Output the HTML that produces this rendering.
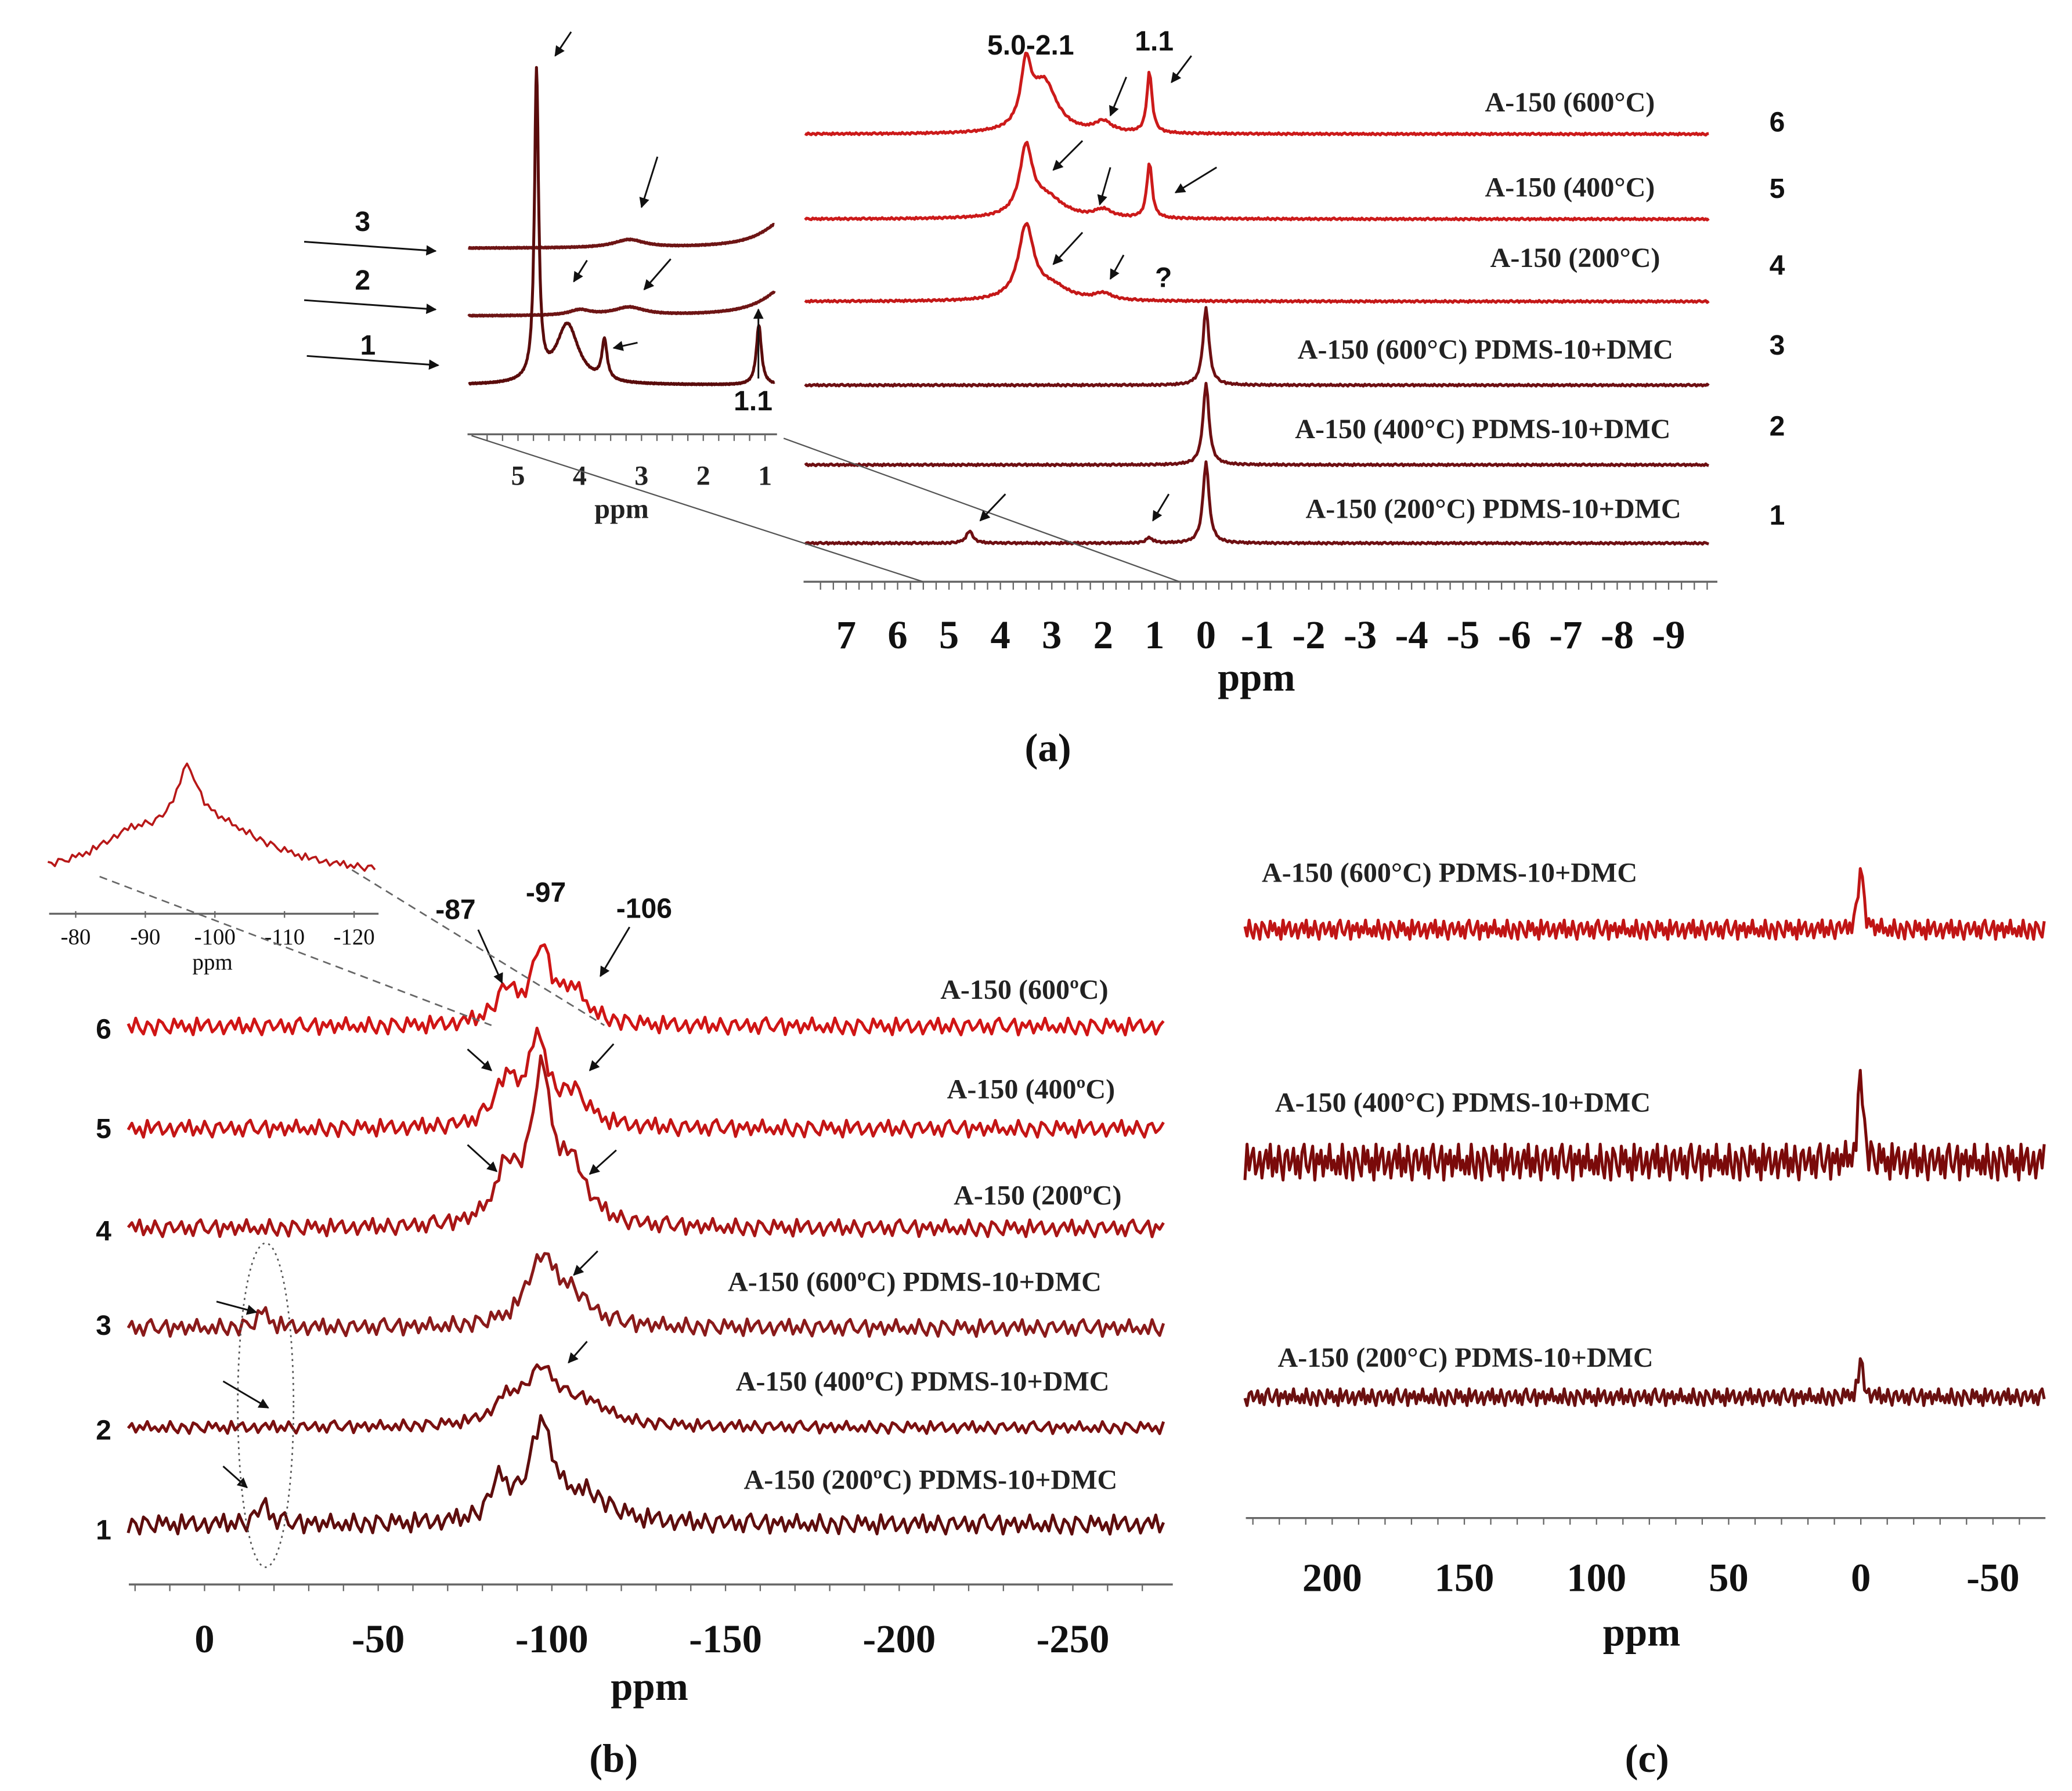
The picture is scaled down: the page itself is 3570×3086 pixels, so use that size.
<!DOCTYPE html>
<html><head><meta charset="utf-8"><style>
html,body{margin:0;padding:0;background:#fff}
svg{display:block}
.lbl{font-family:"Liberation Serif",serif;font-weight:bold;font-size:21px;fill:#222}
.num{font-family:"Liberation Sans",sans-serif;font-weight:bold;font-size:21px;fill:#111}
.tick{font-family:"Liberation Serif",serif;font-weight:bold;font-size:30px;fill:#111}
.small{font-family:"Liberation Serif",serif;font-size:17px;fill:#111}
</style></head><body>
<svg id="fig" width="3570" height="3086" viewBox="0 0 1560 1348.5" xmlns="http://www.w3.org/2000/svg">
<defs><marker id="ah" viewBox="0 0 10 10" refX="9" refY="5" markerWidth="6" markerHeight="6" orient="auto"><path d="M0,0L10,5L0,10z" fill="#111"/></marker></defs>
<g id="root"></g>
</svg>
<script>
// ---- data ----
const noise=[0.3,-0.6,0.9,-0.2,-0.8,0.5,0.1,-0.9,0.7,0.4,-0.3,-0.7,0.8,-0.1,0.6,-0.5,0.2,-0.9,0.9,-0.4,0.3,0.7,-0.6,-0.2,0.5,-0.8,0.1,0.6,-0.3,0.9,-0.7,0.2,-0.5,0.8,-0.1,-0.9,0.4,0.6,-0.4,0.0,0.7,-0.6,0.3,-0.8,0.5,0.9,-0.2,-0.5,0.2,0.8,-0.9,0.4,-0.1,0.6,-0.7,0.3,-0.3,0.9,-0.4,0.1,-0.6];
const aNames=["A-150 (600°C)","A-150 (400°C)","A-150 (200°C)","A-150 (600°C) PDMS-10+DMC","A-150 (400°C) PDMS-10+DMC","A-150 (200°C) PDMS-10+DMC"];
const aNums=["6","5","4","3","2","1"];
const aBase=[101,165,227,290,350,409];
const aPeaks=[[[3.5,45,0.12],[3.15,38,0.3],[2.0,8,0.2],[1.1,46,0.06]],
[[3.5,50,0.15],[3.1,15,0.4],[2.0,6,0.2],[1.1,42,0.06]],
[[3.5,55,0.18],[3.0,10,0.4],[2.0,5,0.2]],
[[0,58,0.07]],[[0,61,0.07]],[[0,61,0.07],[4.6,9,0.08],[1.1,4,0.08]]];
const aTicks=[7,6,5,4,3,2,1,0,-1,-2,-3,-4,-5,-6,-7,-8,-9];
const iBase=[187,238,290];
const iPeaks=[[[3.2,6,0.3],[0.6,24,0.45]],[[3.2,6,0.3],[4.0,4,0.2],[0.6,24,0.45]],[[4.7,232,0.04],[4.2,45,0.22],[3.6,30,0.05],[1.1,45,0.05]]];
const iTicks=[5,4,3,2,1];
const bNames=["A-150 (600ºC)","A-150 (400ºC)","A-150 (200ºC)","A-150 (600ºC) PDMS-10+DMC","A-150 (400ºC) PDMS-10+DMC","A-150 (200ºC) PDMS-10+DMC"];
const bBase=[773,850,925,1000,1075,1148];
const bPeaks=[[[-97,55,3],[-87,25,4],[-106,25,5]],[[-96,65,3],[-87,35,4],[-106,25,5]],[[-97,110,3.5],[-87,40,4],[-106,40,5]],
[[-97,50,5],[-106,20,6],[-17,12,2]],[[-97,40,6],[-87,15,4],[-110,15,8]],[[-97,72,4],[-85,30,3],[-110,20,8],[-17,15,2]]];
const bNoise=[7,7,7,7,5,8];
const bTicks=[0,-50,-100,-150,-200,-250];
const insBPeaks=[[-96,45,2],[-100,35,10],[-88,20,6]];
const insBTicks=[-80,-90,-100,-110,-120];
const cNames=["A-150 (600°C) PDMS-10+DMC","A-150 (400°C) PDMS-10+DMC","A-150 (200°C) PDMS-10+DMC"];
const cBase=[700,875,1052];
const cPeaks=[[[0,52,1]],[[0,75,1]],[[0,28,1]]];
const cNoise=[8,15,7];
const cTicks=[200,150,100,50,0,-50];

const NS="http://www.w3.org/2000/svg";
const root=document.getElementById('root');
function el(tag,attrs,parent){const e=document.createElementNS(NS,tag);for(const k in attrs)e.setAttribute(k,attrs[k]);(parent||root).appendChild(e);return e;}
function txt(s,x,y,cls,anchor,name){const t=el('text',{x:x,y:y,class:cls,'text-anchor':anchor||'start'});t.textContent=s;


return t;}
function trace(xs,p0,p1,step,base,peaks,namp,off,color,name,sw){let d='';let i=0;
for(let p=p0;p>=p1;p-=step){let y=base;for(const pk of peaks){const u=(p-pk[0])/pk[2];y-=pk[1]/(1+u*u);}
y-=namp*noise[(i+off)%noise.length];d+=(i?'L':'M')+xs(p).toFixed(1)+','+y.toFixed(1);i++;}
const path=el('path',{d:d,fill:'none',stroke:color,'stroke-width':sw||2.2,'stroke-linejoin':'round'});

return path;}
function arrow(x1,y1,x2,y2){const a=el('line',{x1:x1,y1:y1,x2:x2,y2:y2,stroke:'#111','stroke-width':1.3,'marker-end':'url(#ah)'});

}
function axis(x0,x1,y,name){const l=el('line',{x1:x0,y1:y,x2:x1,y2:y,stroke:'#666','stroke-width':1.5});

}
function ticks(xs,p0,p1,step,y,len){for(let p=p0;p>=p1-1e-9;p-=step){el('line',{x1:xs(p),y1:y,x2:xs(p),y2:y+len,stroke:'#666','stroke-width':1});}}

const xa=p=>908-38.7*p;
const aCol=['#cc1a1a','#cc1a1a','#c41818','#6e0f12','#6e0f12','#6e0f12'];
aBase.forEach((b,k)=>{trace(xa,7.8,-9.8,0.03,b,aPeaks[k],0.8,k*7,aCol[k],'trace-a-'+aNums[k]);});
axis(605,1293,438,'x-axis-a');ticks(xa,7.5,-9.75,0.25,438,6);
aTicks.forEach(t=>txt(String(t),xa(t),488,'tick','middle','tick-a'));
txt('ppm',946,520,'tick','middle','x-axis-title-a');
const aLy=[84,148,201,270,330,390],aLx=[1118,1118,1122,977,975,983],aNy=[99,149,207,267,328,395];
aNames.forEach((n,k)=>{txt(n,aLx[k],aLy[k],'lbl','start','label-a-'+aNums[k]);txt(aNums[k],1338,aNy[k],'num','middle','number-a-'+aNums[k]);});
txt('5.0-2.1',776,41,'num','middle','peak-label-5-2');txt('1.1',869,38,'num','middle','peak-label-1-1');
txt('?',876,216,'num','middle','question-mark');
const xi=p=>390+46.5*(5-p);
const iCol=['#6e1515','#6e1515','#5a0c0c'];
iBase.forEach((b,k)=>{trace(xi,5.8,0.85,0.01,b,iPeaks[k],0.5,k*11,iCol[k],'inset-a-trace-'+(3-k));});
axis(352,585,327,'inset-a-axis');ticks(xi,5.5,1,0.25,327,5);
iTicks.forEach(t=>txt(String(t),xi(t),365,'lbl','middle','inset-a-tick'));
txt('ppm',468,390,'lbl','middle','inset-a-axis-title');
txt('3',273,174,'num','middle','inset-label-3');txt('2',273,218,'num','middle','inset-label-2');txt('1',277,267,'num','middle','inset-label-1');
txt('1.1',567,309,'num','middle','inset-label-1-1');
arrow(229,182,328,189);arrow(229,226,328,233);arrow(231,268,330,275);
el('line',{x1:355,y1:328,x2:695,y2:438,stroke:'#555','stroke-width':1});el('line',{x1:590,y1:330,x2:888,y2:438,stroke:'#555','stroke-width':1});
arrow(430,24,418,42);arrow(495,118,483,156);arrow(442,196,432,212);arrow(505,195,485,218);arrow(480,258,462,262);arrow(571,285,571,233);
arrow(848,58,836,87);arrow(897,42,882,62);arrow(815,106,793,128);arrow(836,126,828,154);arrow(916,126,885,145);arrow(815,175,793,199);arrow(846,192,836,210);arrow(757,372,738,392);arrow(880,372,868,392);

const xb=p=>154-2.615*p;
const bCol=['#d01515','#c41515','#a81515','#8a1a1a','#7a1010','#5e0d0d'];
bBase.forEach((b,k)=>{trace(xb,22,-277,1.1,b,bPeaks[k],bNoise[k],k*13,bCol[k],'trace-b-'+aNums[k]);});
axis(97,883,1193,'x-axis-b');ticks(xb,20,-275,10,1193,5);
bTicks.forEach(t=>txt(String(t),xb(t),1244,'tick','middle','tick-b'));
txt('ppm',489,1280,'tick','middle','x-axis-title-b');
const bLx=[708,713,718,548,554,560],bLy=[752,827,907,972,1047,1121],bNy=[782,857,934,1005,1084,1159];
bNames.forEach((n,k)=>{txt(n,bLx[k],bLy[k],'lbl','start','label-b-'+aNums[k]);txt(aNums[k],78,bNy[k],'num','middle','number-b-'+aNums[k]);});
txt('-87',343,692,'num','middle','peak-label-87');txt('-97',411,679,'num','middle','peak-label-97');txt('-106',485,691,'num','middle','peak-label-106');
arrow(360,700,378,740);arrow(474,698,452,735);arrow(352,790,370,806);arrow(462,786,444,806);arrow(352,862,374,882);arrow(464,866,444,884);
arrow(450,942,432,960);arrow(442,1010,428,1026);arrow(163,980,193,988);arrow(168,1040,202,1060);arrow(168,1104,186,1120);
const ell=el('ellipse',{cx:200,cy:1058,rx:21,ry:122,fill:'none',stroke:'#555','stroke-width':1.2,'stroke-dasharray':'1.5,3'});


const xib=p=>57+5.24*(-80-p);
trace(xib,-76,-123,0.5,660,insBPeaks,3,5,'#b81818','inset-b-trace',1.6);
axis(37,285,688,'inset-b-axis');
insBTicks.forEach(t=>{el('line',{x1:xib(t),y1:686,x2:xib(t),y2:691,stroke:'#666'});txt(String(t),xib(t),711,'small','middle','inset-b-tick');});
txt('ppm',160,730,'small','middle','inset-b-axis-title');
el('line',{x1:75,y1:660,x2:370,y2:772,stroke:'#666','stroke-width':1.2,'stroke-dasharray':'6,4'});
el('line',{x1:265,y1:655,x2:455,y2:772,stroke:'#666','stroke-width':1.2,'stroke-dasharray':'6,4'});

const xc=p=>1401-1.99*p;
const cCol=['#c01515','#7a0a0a','#6a1010'];
cBase.forEach((b,k)=>{trace(xc,233,-70,0.8,b,cPeaks[k],cNoise[k],k*17,cCol[k],'trace-c-'+k);});
axis(938,1540,1143,'x-axis-c');ticks(xc,230,-65,10,1143,5);
cTicks.forEach(t=>txt(String(t),xc(t),1198,'tick','middle','tick-c'));
txt('ppm',1236,1239,'tick','middle','x-axis-title-c');
const cLx=[950,960,962],cLy=[664,837,1029];
cNames.forEach((n,k)=>txt(n,cLx[k],cLy[k],'lbl','start','label-c-'+k));

txt('(a)',789,573,'tick','middle','panel-label-a');txt('(b)',462,1334,'tick','middle','panel-label-b');txt('(c)',1240,1334,'tick','middle','panel-label-c');
</script>
</body></html>
